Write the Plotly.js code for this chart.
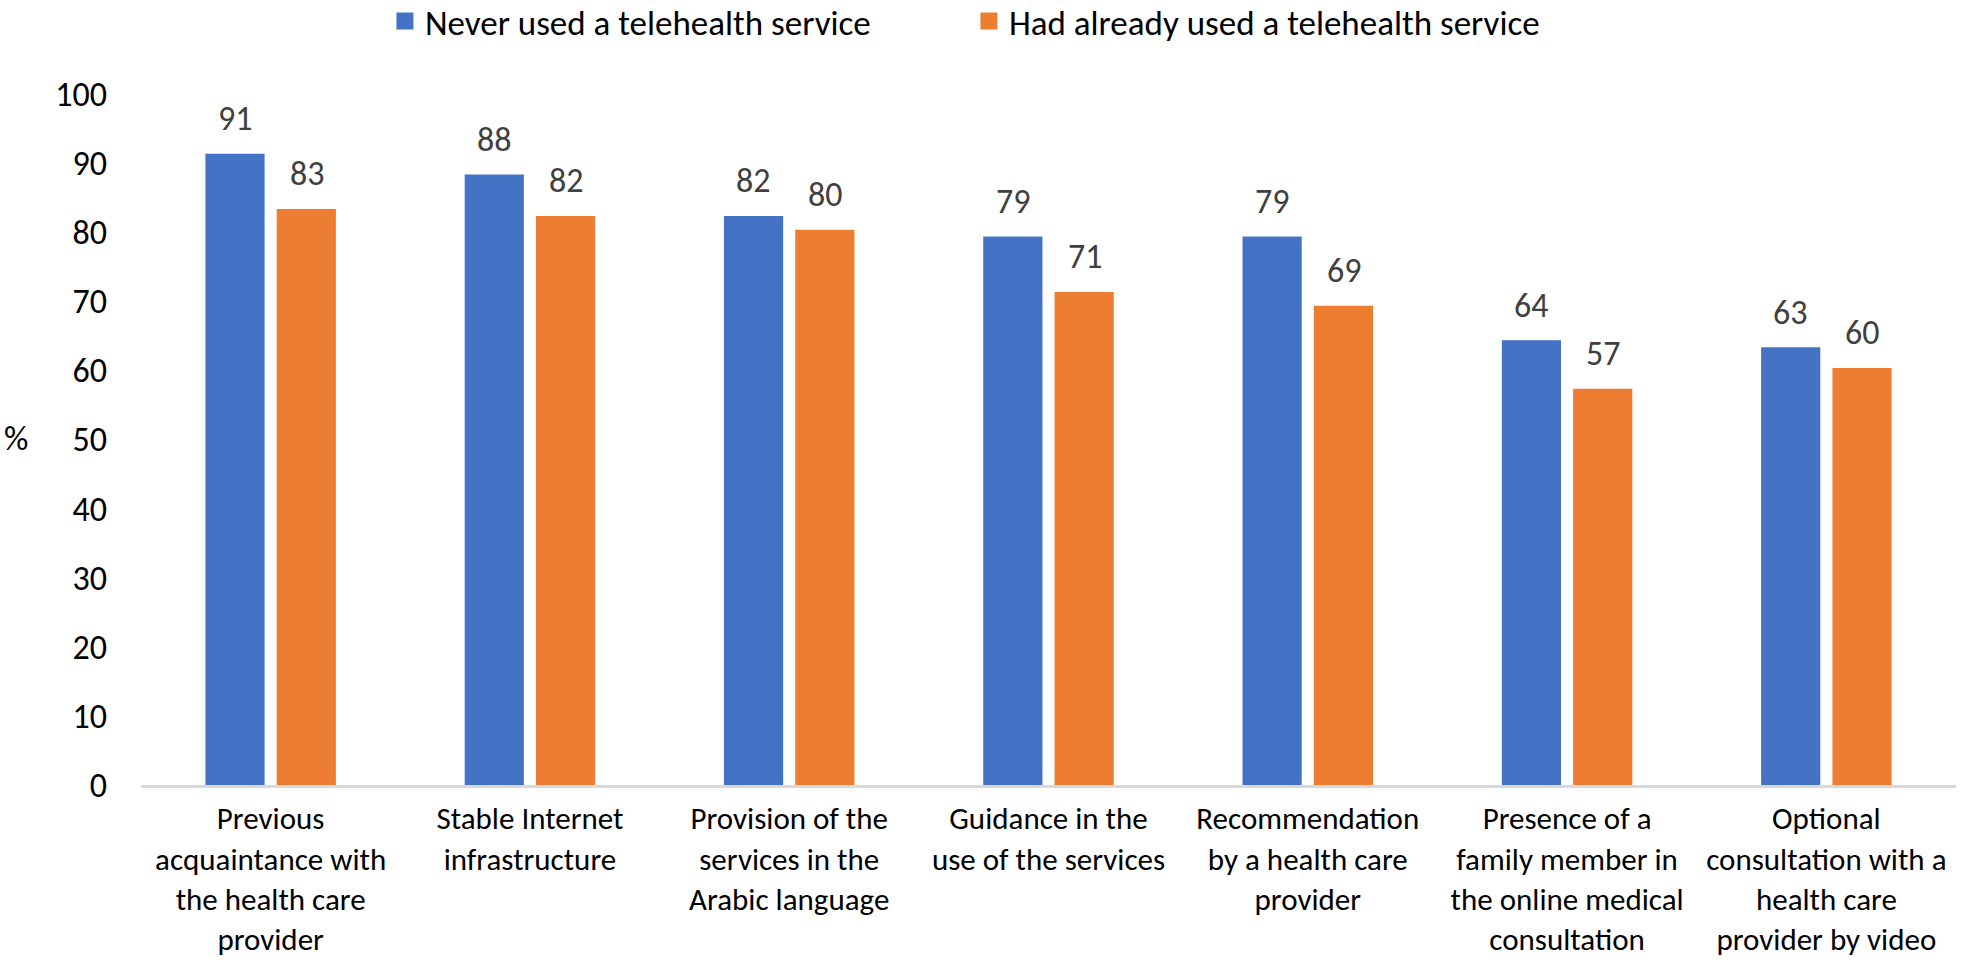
<!DOCTYPE html>
<html>
<head>
<meta charset="utf-8">
<script src="https://cdn.plot.ly/plotly-3.0.1.min.js"></script>
<style>
  html, body { margin: 0; padding: 0; background: #fff; }
  #chart { width: 1961px; height: 962px; }
</style>
</head>
<body>
<div id="chart"></div>
<script>
const categories = [
    'Previous<br>acquaintance with<br>the health care<br>provider',
    'Stable Internet<br>infrastructure',
    'Provision of the<br>services in the<br>Arabic language',
    'Guidance in the<br>use of the services',
    'Recommendation<br>by a health care<br>provider',
    'Presence of a<br>family member in<br>the online medical<br>consultation',
    'Optional<br>consultation with a<br>health care<br>provider by video'
];
const neverUsed = [91, 88, 82, 79, 79, 64, 63];
const alreadyUsed = [83, 82, 80, 71, 69, 57, 60];
const yTicks = [0, 10, 20, 30, 40, 50, 60, 70, 80, 90, 100];

const FONT = 'Carlito, Calibri, Lato, sans-serif';
const BLUE = '#4472C4';
const ORANGE = '#ED7D31';

// same-colour outline makes the legend swatches bigger (bars are narrowed to compensate)
const traces = [
    {
        x: categories,
        y: neverUsed,
        name: 'Never used a telehealth service',
        type: 'bar',
        marker: { color: BLUE, line: { color: BLUE, width: 5 } },
        legend: 'legend',
        showlegend: true,
        hoverinfo: 'none'
    },
    {
        x: categories,
        y: alreadyUsed,
        name: 'Had already used a telehealth service',
        type: 'bar',
        marker: { color: ORANGE, line: { color: ORANGE, width: 5 } },
        legend: 'legend2',
        showlegend: true,
        hoverinfo: 'none'
    }
];

// value labels sit a little above each bar
const annotations = [];
[neverUsed, alreadyUsed].forEach((series, s) => {
    series.forEach((v, i) => {
        annotations.push({
            x: categories[i],
            y: v,
            xref: 'x',
            yref: 'y',
            text: String(v),
            showarrow: false,
            xanchor: 'center',
            yanchor: 'bottom',
            xshift: s === 0 ? -36 : 36,
            yshift: 15,
            font: { family: FONT, size: 34, color: '#404040' }
        });
    });
});

// "%" axis label, horizontal like the original
annotations.push({
    x: -0.069, y: 0.502,
    xref: 'paper', yref: 'paper',
    text: '%',
    showarrow: false,
    xanchor: 'center',
    yanchor: 'middle',
    font: { family: FONT, size: 34, color: '#000' }
});

const legendBase = {
    orientation: 'h',
    xref: 'container',
    yref: 'container',
    xanchor: 'left',
    y: 0.978,
    yanchor: 'middle',
    font: { family: FONT, size: 35, color: '#000' },
    bgcolor: 'rgba(0,0,0,0)'
};

const layout = {
    width: 1961,
    height: 962,
    barmode: 'group',
    bargap: 0.45,
    bargroupgap: 0.24,
    showlegend: true,
    font: { family: FONT, color: '#000' },
    xaxis: {
        type: 'category',
        showgrid: false,
        showline: true,
        linecolor: '#D9D9D9',
        linewidth: 3,
        ticks: '',
        tickangle: 0,
        ticklabelstandoff: 4,
        tickfont: { family: FONT, size: 31, color: '#000' }
    },
    yaxis: {
        range: [0, 100],
        tickvals: yTicks,
        ticktext: yTicks.map(String),
        showgrid: false,
        zeroline: false,
        showline: false,
        ticks: '',
        ticklabelstandoff: 33,
        tickfont: { family: FONT, size: 34, color: '#000' }
    },
    legend: Object.assign({}, legendBase, { x: 0.1963, visible: true }),
    legend2: Object.assign({}, legendBase, { x: 0.4941, visible: true }),
    annotations: annotations,
    margin: { l: 141, r: 5, t: 94, b: 177 },
    paper_bgcolor: '#fff',
    plot_bgcolor: '#fff'
};

Plotly.newPlot('chart', traces, layout, { displayModeBar: false, staticPlot: true });
</script>
</body>
</html>
